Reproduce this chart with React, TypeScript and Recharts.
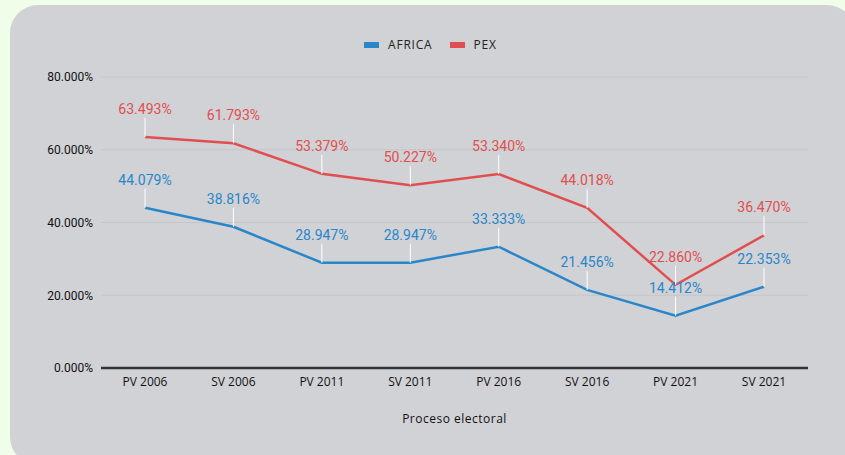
import React from 'react';
import { LineChart, Line, XAxis, YAxis, CartesianGrid, Legend, Label } from 'recharts';

const categories = ['PV 2006', 'SV 2006', 'PV 2011', 'SV 2011', 'PV 2016', 'SV 2016', 'PV 2021', 'SV 2021'];
const africa = [44.079, 38.816, 28.947, 28.947, 33.333, 21.456, 14.412, 22.353];
const pex = [63.493, 61.793, 53.379, 50.227, 53.34, 44.018, 22.86, 36.47];
const yTicks = [0, 20, 40, 60, 80];

const data = categories.map((c, i) => ({ name: c, AFRICA: africa[i], PEX: pex[i] }));

const BLUE = '#2a86c8';
const RED = '#e04f4f';

const makeLabel = (color: string) => (props: any) => {
  const { x, y, value, index } = props;
  if (x == null || y == null) return null;
  return (
    <g key={`l-${color}-${index}`}>
      <line x1={x} x2={x} y1={y} y2={y - 19} stroke="#ffffff" strokeWidth={1} />
      <text
        x={x}
        y={y - 28}
        textAnchor="middle"
        dominantBaseline="central"
        fill={color}
        fontFamily="Roboto"
        fontSize={14}
      >
        {Number(value).toFixed(3) + '%'}
      </text>
    </g>
  );
};

const LegendContent = () => (
  <div style={{ display: 'flex', alignItems: 'center', fontFamily: "'Open Sans'", fontSize: 12, color: '#222', letterSpacing: 0.8 }}>
    {[
      { name: 'AFRICA', color: BLUE, mr: 17 },
      { name: 'PEX', color: RED, mr: 0 },
    ].map((it) => (
      <div key={it.name} style={{ display: 'flex', alignItems: 'center', marginRight: it.mr }}>
        <div style={{ width: 15, height: 6, background: it.color, marginRight: 9 }} />
        <span>{it.name}</span>
      </div>
    ))}
  </div>
);

export default function App() {
  return (
    <div style={{ position: 'fixed', left: 0, top: 0, width: 845, height: 455, background: '#f0fde9', overflow: 'hidden' }}>
      <div style={{ position: 'absolute', left: 10, top: 5, width: 845, height: 460, background: '#d1d2d6', borderRadius: 28 }} />
      <div style={{ position: 'absolute', left: 0, top: 0 }}>
        <LineChart width={845} height={455} data={data} margin={{ top: 77, right: 37, bottom: 27, left: 0 }}>
          <CartesianGrid horizontal vertical={false} stroke="#c5c6ca" strokeWidth={1} />
          <XAxis
            dataKey="name"
            padding={{ left: 44, right: 44 }}
            axisLine={{ stroke: '#333333', strokeWidth: 2.5 }}
            tickLine={false}
            tickSize={0}
            tickMargin={9}
            height={60}
            tick={{ fill: '#111', fontFamily: "'Open Sans'", fontSize: 12 }}
            interval={0}
          >
            <Label value="Proceso electoral" position="insideBottom" offset={5} style={{ fill: '#111', fontFamily: "'Open Sans'", fontSize: 12, letterSpacing: 0.5 }} />
          </XAxis>
          <YAxis
            width={101}
            domain={[0, 80]}
            ticks={yTicks}
            axisLine={false}
            tickLine={false}
            tickSize={0}
            tickMargin={8}
            tickFormatter={(v: number) => v.toFixed(3) + '%'}
            tick={{ fill: '#111', fontFamily: 'Roboto', fontSize: 12 }}
          />
          <Legend verticalAlign="middle" align="center" wrapperStyle={{ top: 36, left: 364, width: 200 }} content={<LegendContent />} />
          <Line type="linear" dataKey="AFRICA" stroke={BLUE} strokeWidth={2.5} dot={false} isAnimationActive={false} label={makeLabel(BLUE)} />
          <Line type="linear" dataKey="PEX" stroke={RED} strokeWidth={2.5} dot={false} isAnimationActive={false} label={makeLabel(RED)} />
        </LineChart>
      </div>
    </div>
  );
}
